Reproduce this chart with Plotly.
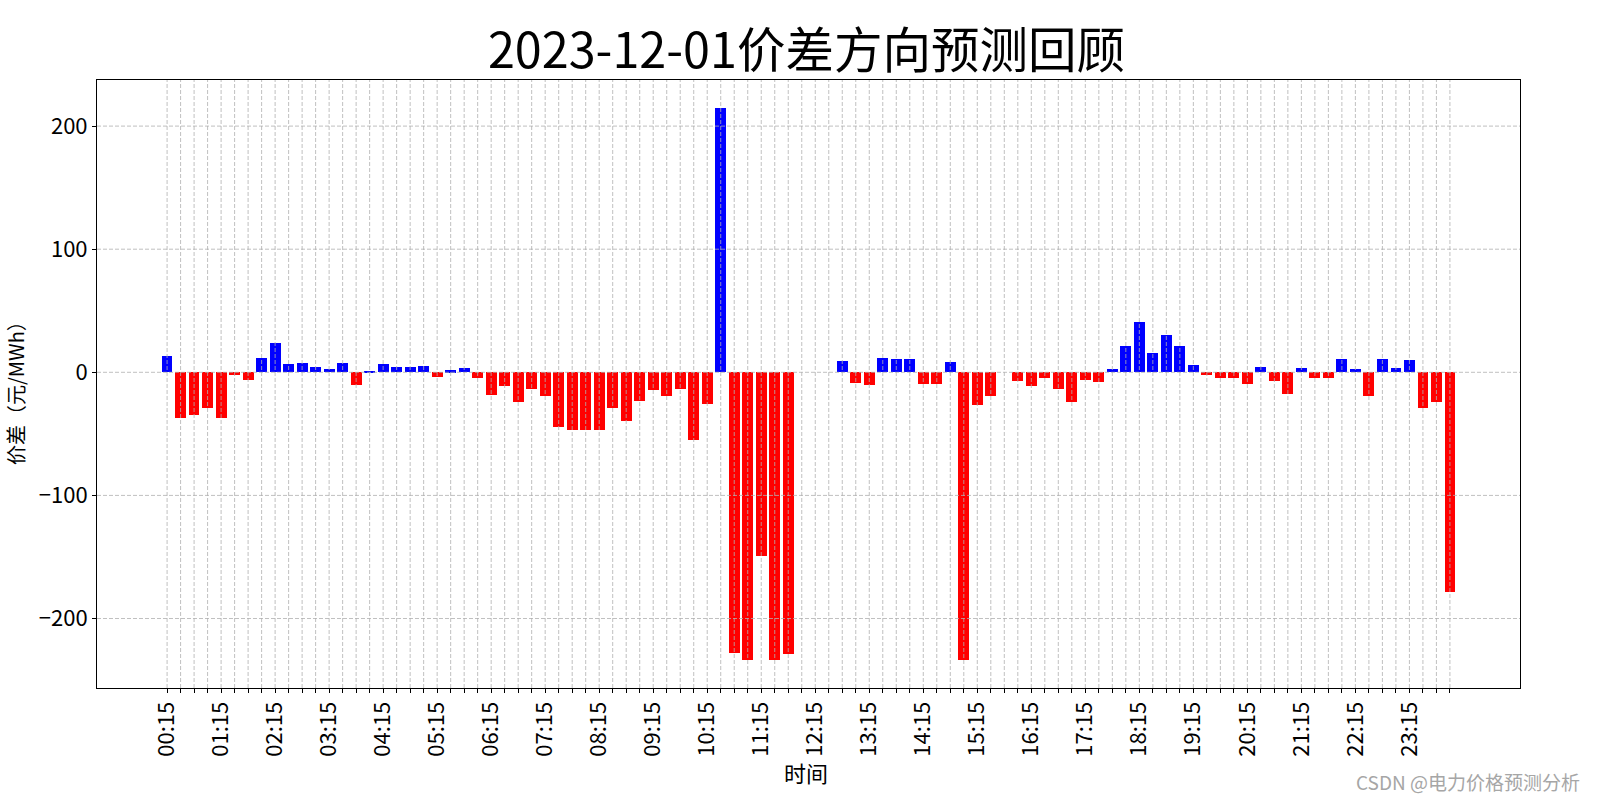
import plotly.graph_objects as go

# ---- data ----
times = [f"{(m // 60) % 25:02d}:{m % 60:02d}" for m in range(15, 24 * 60 + 1, 15)]
values = [
    13, -37, -35, -29, -37, -2, -6, 12, 24, 6.5, 7.5, 4, 3, 7.5, -10, 1,
    6.5, 4, 4, 5, -4, 1.6, 3.3, -4.6, -18.5, -11, -24, -13.6, -19, -44.5, -47, -47,
    -47, -29, -39.6, -23.3, -14.4, -19.2, -13.6, -55, -26, 215, -228, -234, -149, -234,
    -229, 0, 0, 0, 9, -8.7, -10.3, 11.4, 10.6, 10.6, -9.5, -9.5, 8, -234, -26.3, -19.2,
    0, -7, -11, -4.6, -13.6, -24, -6.3, -8, 2.4, 21, 40.7, 15.4, 30, 21, 5.7, -2.2,
    -4.6, -4.6, -9.5, 4, -7, -17.6, 3.3, -4.6, -4.6, 10.6, 2.4, -19.2, 10.6, 3.3, 9.8, -29,
    -24, -178.6,
]
ytick_vals = [-200, -100, 0, 100, 200]
title_text = "2023-12-01价差方向预测回顾"
xlabel = "时间"
ylabel = "价差（元/MWh）"
watermark = "CSDN @电力价格预测分析"

FONT = "Noto Sans CJK SC"
idx = list(range(len(times)))
colors = ["#0000ff" if v > 0 else "#ff0000" for v in values]

# plot-area geometry in pixels (for annotation placement)
L, R, T, B = 97, 1520, 80, 688
def px(x):
    return (x - L) / (R - L)
def py(y):
    return (B - y) / (B - T)

fig = go.Figure()
fig.add_trace(go.Bar(x=idx, y=values, width=0.8, marker=dict(color=colors, line=dict(width=0)),
                     showlegend=False))

ymin, ymax = min(min(values), 0), max(max(values), 0)
pad = 0.05 * (ymax - ymin)
n = len(idx)
xpad = 0.05 * (n - 1 + 0.8)

tick_text = [t if i % 4 == 0 else "" for i, t in enumerate(times)]

grid = dict(color="#b0b0b0", width=0.8, dash="4px,2px")
shapes = []
for i in idx:
    shapes.append(dict(type="line", xref="x", yref="y domain", x0=i, x1=i, y0=0, y1=1,
                       line=grid, layer="above"))
for yv in ytick_vals:
    shapes.append(dict(type="line", xref="x domain", yref="y", x0=0, x1=1, y0=yv, y1=yv,
                       line=grid, layer="above"))

fig.update_layout(
    width=1600, height=800,
    margin=dict(l=L, r=1600 - R, t=T, b=800 - B, autoexpand=False),
    plot_bgcolor="white", paper_bgcolor="white",
    font=dict(family=FONT, color="black"),
    bargap=0,
    shapes=shapes,
    title=dict(text=title_text, x=0.504, xref="container", xanchor="center",
               y=1 - 51 / 800, yref="container", yanchor="middle",
               font=dict(size=48.5, family=FONT, color="black")),
    xaxis=dict(range=[-0.4 - xpad, n - 1 + 0.4 + xpad], tickmode="array", tickvals=idx,
               ticktext=tick_text, tickangle=-90, ticks="outside", ticklen=4, tickwidth=1,
               tickcolor="black", showgrid=False, zeroline=False, showline=True,
               linecolor="black", linewidth=1, mirror=True, automargin=False,
               tickfont=dict(size=22, family=FONT)),
    yaxis=dict(range=[ymin - pad, ymax + pad], tickmode="array", tickvals=ytick_vals,
               ticks="outside", ticklen=4, tickwidth=1, tickcolor="black",
               showgrid=False, zeroline=False, showline=True, linecolor="black",
               linewidth=1, mirror=True, automargin=False,
               tickfont=dict(size=22, family=FONT)),
    annotations=[
        dict(text=xlabel, xref="paper", yref="paper", x=px(806), y=py(772),
             xanchor="center", yanchor="middle", showarrow=False,
             font=dict(size=22, family=FONT)),
        dict(text=ylabel, xref="paper", yref="paper", x=px(15), y=py(388),
             xanchor="center", yanchor="middle", showarrow=False, textangle=-90,
             font=dict(size=20, family=FONT)),
        dict(text=watermark, xref="paper", yref="paper", x=px(1582), y=py(781),
             xanchor="right", yanchor="middle", showarrow=False,
             font=dict(size=19, family=FONT, color="#a6a6a6")),
    ],
)

fig.write_html("out.html")
